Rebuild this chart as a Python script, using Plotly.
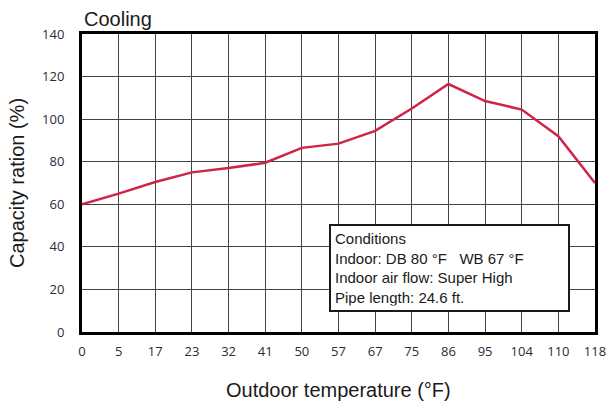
import plotly.graph_objects as go

temps = ["0", "5", "17", "23", "32", "41", "50", "57", "67", "75", "86", "95", "104", "110", "118"]
capacity = [60, 65, 70.5, 75, 77, 79.5, 86.5, 88.5, 94.5, 105, 116.5, 108.5, 104.5, 92, 70]
y_ticks = [0, 20, 40, 60, 80, 100, 120, 140]

fig = go.Figure()
fig.add_trace(go.Scatter(
    x=temps, y=capacity, mode="lines",
    line=dict(color="#cf2448", width=2.5),
    hoverinfo="x+y", showlegend=False,
))

tick_font = dict(family="Open Sans, Lato, sans-serif", size=13, color="#2b2b3b")
title_font = dict(family="Liberation Sans, Arial, sans-serif", size=20, color="#1a1a1a")
fig.update_layout(
    width=609, height=406,
    margin=dict(l=82, r=14, t=34, b=74),
    paper_bgcolor="white", plot_bgcolor="white",
    xaxis=dict(
        type="category", categoryorder="array", categoryarray=temps,
        range=[0, len(temps) - 1], automargin=False,
        showgrid=True, gridcolor="#444444", gridwidth=1.2,
        showline=True, linecolor="black", linewidth=3, mirror=True,
        ticks="", tickfont=tick_font, ticklabelstandoff=5,
        zeroline=False,
    ),
    yaxis=dict(
        range=[0, 140], tickvals=y_ticks, automargin=False,
        showgrid=True, gridcolor="#444444", gridwidth=1.2,
        showline=True, linecolor="black", linewidth=3, mirror=True,
        ticks="", tickfont=tick_font, ticklabelstandoff=12,
        zeroline=False,
    ),
    annotations=[
        dict(text="Cooling", xref="paper", yref="paper", x=0.0, y=1.0,
             xanchor="left", yanchor="bottom", yshift=2, xshift=0, showarrow=False,
             font=dict(family="Liberation Sans, Arial, sans-serif", size=20, color="#1a1a1a")),
        dict(text="Outdoor temperature (°F)", xref="paper", yref="paper", x=0.5, y=0,
             xanchor="center", yanchor="middle", yshift=-58, showarrow=False, font=title_font),
        dict(text="Capacity ration (%)", xref="paper", yref="paper", x=0, y=0.5,
             xanchor="center", yanchor="middle", xshift=-65, textangle=-90,
             showarrow=False, font=title_font),
        dict(text="Conditions<br>Indoor: DB 80 °F &nbsp; WB 67 °F<br>Indoor air flow: Super High<br>Pipe length: 24.6 ft.",
             xref="paper", yref="paper", x=0.481, y=0.362, xanchor="left", yanchor="top",
             align="left", showarrow=False, bgcolor="white", bordercolor="#1a1a1a",
             borderwidth=2, borderpad=4, width=229,
             font=dict(family="Liberation Sans, Arial, sans-serif", size=15, color="#1a1a1a")),
    ],
)

fig.write_html("out.html", config={"displayModeBar": False},
               post_script="document.body.style.margin='0px';")
